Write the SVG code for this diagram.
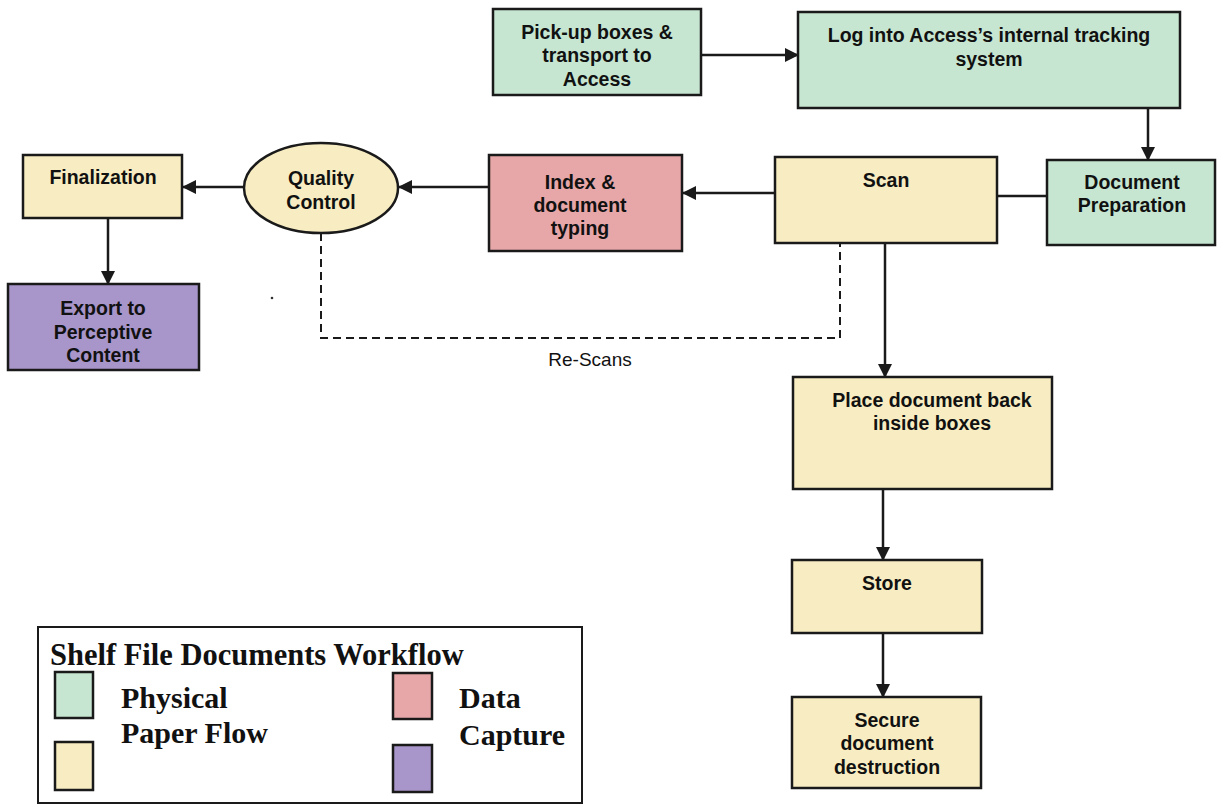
<svg xmlns="http://www.w3.org/2000/svg" width="1221" height="808" viewBox="0 0 1221 808">
<style>
.box{stroke:#1a1a1a;stroke-width:2.5}
.g{fill:#c7e6d2}.y{fill:#f8edc2}.p{fill:#e7a7a9}.v{fill:#a895c9}
.t{font-family:"Liberation Sans",Arial,sans-serif;font-weight:bold;font-size:19.5px;fill:#111;text-anchor:middle}
.c{stroke:#1a1a1a;stroke-width:2.5;fill:none}
.d{stroke:#1a1a1a;stroke-width:2;fill:none;stroke-dasharray:8,5}
.lg{font-family:"Liberation Serif","Times New Roman",serif;font-weight:bold;fill:#111}
</style>
<defs>
<marker id="ah2" markerWidth="14" markerHeight="14" refX="13" refY="7" orient="auto" markerUnits="userSpaceOnUse" viewBox="0 0 14 14">
<path d="M0,0 L14,7 L0,14 z" fill="#1a1a1a"/>
</marker>
</defs>
<rect width="1221" height="808" fill="#fff"/>

<g id="connectors">
<line class="c" x1="701" y1="55" x2="798" y2="55" marker-end="url(#ah2)"/>
<line class="c" x1="1148" y1="108" x2="1148" y2="160" marker-end="url(#ah2)"/>
<line class="c" x1="997" y1="196" x2="1047" y2="196"/>
<line class="c" x1="775" y1="193" x2="683" y2="193" marker-end="url(#ah2)"/>
<line class="c" x1="489" y1="187" x2="399" y2="187" marker-end="url(#ah2)"/>
<line class="c" x1="244" y1="187" x2="183" y2="187" marker-end="url(#ah2)"/>
<line class="c" x1="108" y1="218" x2="108" y2="284" marker-end="url(#ah2)"/>
<line class="c" x1="885" y1="243" x2="885" y2="377" marker-end="url(#ah2)"/>
<line class="c" x1="883" y1="489" x2="883" y2="560" marker-end="url(#ah2)"/>
<line class="c" x1="883" y1="633" x2="883" y2="697" marker-end="url(#ah2)"/>
<polyline class="d" points="321,233 321,338 840,338 840,243"/>
<text x="590" y="366" font-family="Liberation Sans,Arial,sans-serif" font-size="19" fill="#111" text-anchor="middle">Re-Scans</text>
<circle cx="272" cy="298" r="1.3" fill="#333"/>
</g>

<g id="pickup">
<rect class="box g" x="493" y="9" width="208" height="86"/>
<text class="t" x="597" y="39">Pick-up boxes &amp;</text>
<text class="t" x="597" y="62">transport to</text>
<text class="t" x="597" y="86">Access</text>
</g>
<g id="login">
<rect class="box g" x="798" y="12" width="382" height="96"/>
<text class="t" x="989" y="42">Log into Access’s internal tracking</text>
<text class="t" x="989" y="66">system</text>
</g>
<g id="docprep">
<rect class="box g" x="1047" y="160" width="168" height="85"/>
<text class="t" x="1132" y="189">Document</text>
<text class="t" x="1132" y="212">Preparation</text>
</g>
<g id="scan">
<rect class="box y" x="775" y="157" width="222" height="86"/>
<text class="t" x="886" y="187">Scan</text>
</g>
<g id="index">
<rect class="box p" x="489" y="155" width="193" height="96"/>
<text class="t" x="580" y="189">Index &amp;</text>
<text class="t" x="580" y="212">document</text>
<text class="t" x="580" y="235">typing</text>
</g>
<g id="qc">
<ellipse class="box y" cx="321" cy="188" rx="77" ry="45"/>
<text class="t" x="321" y="185">Quality</text>
<text class="t" x="321" y="209">Control</text>
</g>
<g id="finalization">
<rect class="box y" x="23" y="155" width="159" height="63"/>
<text class="t" x="103" y="184">Finalization</text>
</g>
<g id="export">
<rect class="box v" x="8" y="284" width="191" height="86"/>
<text class="t" x="103" y="315">Export to</text>
<text class="t" x="103" y="339">Perceptive</text>
<text class="t" x="103" y="362">Content</text>
</g>
<g id="place">
<rect class="box y" x="793" y="377" width="259" height="112"/>
<text class="t" x="932" y="407">Place document back</text>
<text class="t" x="932" y="430">inside boxes</text>
</g>
<g id="store">
<rect class="box y" x="792" y="560" width="190" height="73"/>
<text class="t" x="887" y="590">Store</text>
</g>
<g id="secure">
<rect class="box y" x="792" y="697" width="189" height="91"/>
<text class="t" x="887" y="727">Secure</text>
<text class="t" x="887" y="750">document</text>
<text class="t" x="887" y="774">destruction</text>
</g>

<g id="legend">
<rect x="38" y="627" width="544" height="176" fill="#fff" stroke="#1a1a1a" stroke-width="2"/>
<text class="lg" x="50" y="665" font-size="30.5">Shelf File Documents Workflow</text>
<rect class="box g" x="55" y="672" width="38" height="46"/>
<rect class="box y" x="55" y="742" width="38" height="48"/>
<rect class="box p" x="393" y="673" width="39" height="46"/>
<rect class="box v" x="393" y="745" width="39" height="47"/>
<text class="lg" x="121" y="708" font-size="30">Physical</text>
<text class="lg" x="121" y="743" font-size="30">Paper Flow</text>
<text class="lg" x="459" y="708" font-size="30">Data</text>
<text class="lg" x="459" y="745" font-size="30">Capture</text>
</g>
</svg>
